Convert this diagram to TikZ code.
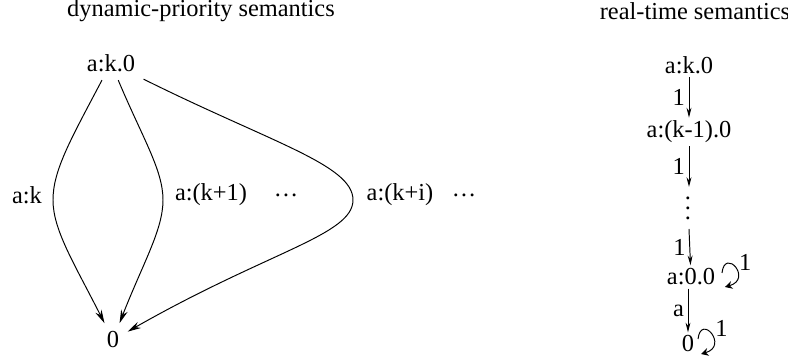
\documentclass[tikz,border=0pt]{standalone}
\usepackage{fontspec}
\setmainfont{Liberation Serif}
\usetikzlibrary{arrows.meta,positioning}

\begin{document}
\begin{tikzpicture}[x=0.41pt, y=-0.41pt, font=\normalsize,
    state/.style={inner sep=3.3pt},
    rstate/.style={inner xsep=1pt, inner ysep=1.2pt},
    arrow/.style={-{Stealth[length=5.5pt, width=2.8pt]}, thin},
    tarrow/.style={-{Stealth[length=4pt, width=2pt]}, thin},
    selfloop/.style={-{Stealth[length=3pt, width=3.2pt]}, thin}]
\useasboundingbox (0,0) rectangle (788,364);

% dynamic-priority semantics
\node (dtitle) at (201,11) {dynamic-priority semantics};
\node[state] (ak0) at (111,63) {a:k.0};
\node[state] (zero) at (113,340) {0};
\node (lk) at (27,195) {a:k};
\node (lk1) at (211,195) {a:(k+1)};
\node (dots1) at (286,195) {\dots};
\node (lki) at (400,195) {a:(k+i)};
\node (dots2) at (464,195) {\dots};

\draw[arrow] (ak0) .. controls (71,139) and (53,170) .. (53,200)
    .. controls (53,230) and (74,263) .. (zero);
\draw[arrow] (ak0) .. controls (143,139) and (163,170) .. (163,200)
    .. controls (163,230) and (143,263) .. (zero);
\draw[arrow] (ak0) .. controls (272,143) and (353,165) .. (353,200)
    .. controls (353,235) and (269,251) .. (zero);

% real-time semantics
\node (rtitle) at (695,11) {real-time semantics};
\node[rstate] (rk0) at (689,65) {a:k.0};
\node[rstate] (rk1) at (689,132) {a:(k-1).0};
\node[inner sep=0pt] (rdots) at (688,201) {$\vdots$};
\coordinate (dtop) at (689,187);
\coordinate (dbot) at (689,229);
\node[rstate] (r00) at (691,277) {a:0.0};
\node[rstate] (rz) at (688,344) {0};

\draw[tarrow] (rk0) -- node[left, inner sep=1.5pt] {1} (rk1);
\draw[tarrow] (rk1) -- node[left, inner sep=1.5pt] {1} (dtop);
\draw[tarrow] (dbot) -- node[left, inner sep=1.5pt] {1} (r00);
\draw[tarrow] (r00.south -| rz) -- node[left, inner sep=1.5pt] {a} (rz);
\draw[selfloop] ([shift={(4,-4)}]r00.east) .. controls +(3,-26) and +(28,-8)
    .. ([shift={(7,10)}]r00.east) node[pos=0.5, right, inner sep=1.5pt, yshift=2pt] {1};
\draw[selfloop] ([shift={(1,-5)}]rz.east) .. controls +(3,-26) and +(28,-8)
    .. ([shift={(4,10)}]rz.east) node[pos=0.5, right, inner sep=1.5pt, yshift=2pt] {1};
\end{tikzpicture}
\end{document}
